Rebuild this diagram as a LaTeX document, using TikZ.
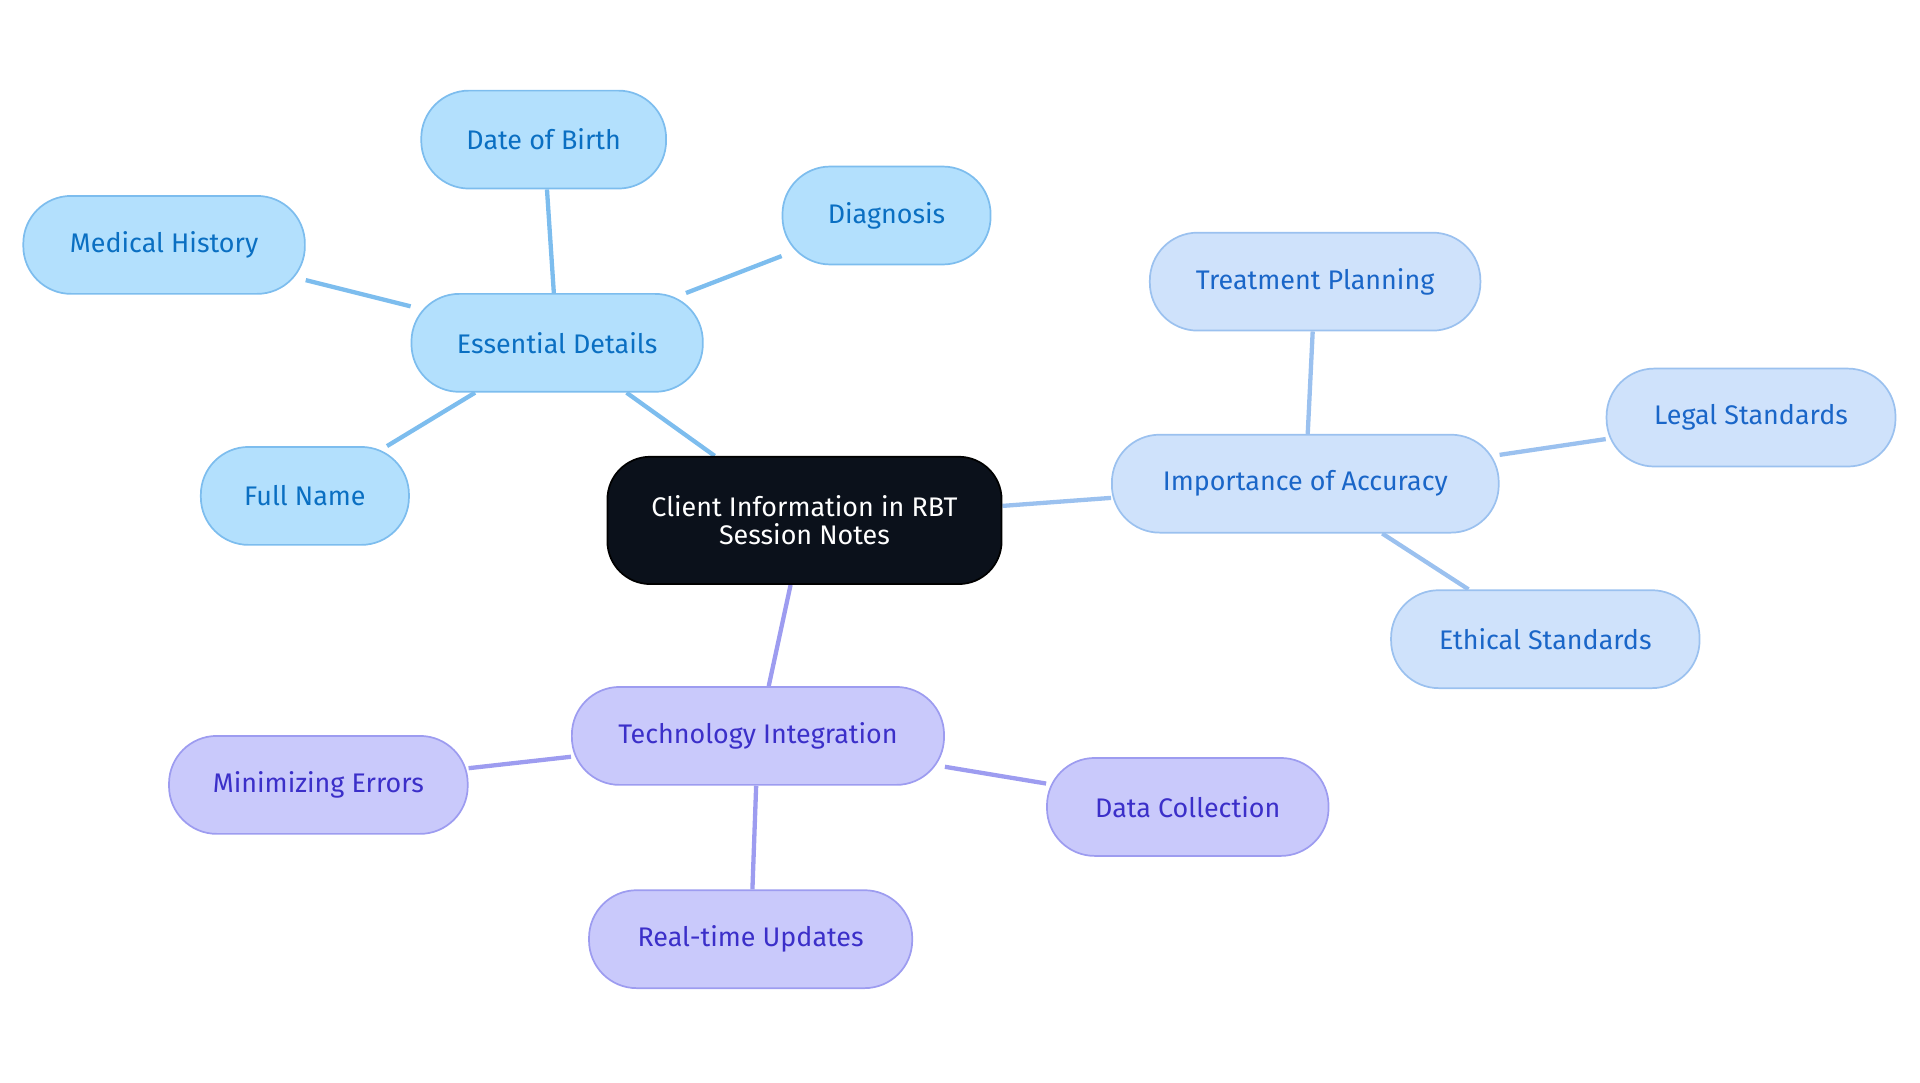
\documentclass[tikz,border=0pt]{standalone}
\usepackage{fontspec}
\setmainfont{Fira Sans}
\usetikzlibrary{backgrounds}
\definecolor{edB}{HTML}{7DBDEE}
\definecolor{fillB}{HTML}{B3E0FD}
\definecolor{txtB}{HTML}{0A6FC2}
\definecolor{edA}{HTML}{9BC1EF}
\definecolor{fillA}{HTML}{CFE2FB}
\definecolor{txtA}{HTML}{1A66C8}
\definecolor{edT}{HTML}{9D9CF0}
\definecolor{fillT}{HTML}{C9C9FB}
\definecolor{txtT}{HTML}{3B2FC9}
\definecolor{dark}{HTML}{0B111B}
\begin{document}
\begin{tikzpicture}[x=0.02cm,y=-0.02cm,
 base/.style={rounded corners=0.78cm, minimum height=1.6cm, inner sep=0pt, font=\fontsize{12.5}{15}\selectfont, line width=0.8pt, align=center},
 nb/.style={base, fill=fillB, draw=edB, text=txtB},
 na/.style={base, fill=fillA, draw=edA, text=txtA},
 nt/.style={base, fill=fillT, draw=edT, text=txtT},
 eb/.style={draw=edB, line width=2pt},
 ea/.style={draw=edA, line width=2pt},
 et/.style={draw=edT, line width=2pt}]
\useasboundingbox (0,0) rectangle (1568,884);
\node[base, fill=dark, draw=black, text=white, minimum width=6.44cm, minimum height=2.08cm, rounded corners=0.7cm] (c) at (657,425) {Client Information in RBT\\[-2pt]Session Notes};
\node[nb, minimum width=4.76cm] (ed) at (455,280) {Essential Details};
\node[nb, minimum width=4cm] (dob) at (444,114) {Date of Birth};
\node[nb, minimum width=3.4cm] (dia) at (724,176) {Diagnosis};
\node[nb, minimum width=4.6cm] (mh) at (134,200) {Medical History};
\node[nb, minimum width=3.4cm] (fn) at (249,405) {Full Name};
\node[na, minimum width=6.32cm] (ia) at (1066,395) {Importance of Accuracy};
\node[na, minimum width=5.4cm] (tp) at (1074,230) {Treatment Planning};
\node[na, minimum width=4.72cm] (ls) at (1430,341) {Legal Standards};
\node[na, minimum width=5.04cm] (es) at (1262,522) {Ethical Standards};
\node[nt, minimum width=6.08cm] (ti) at (619,601) {Technology Integration};
\node[nt, minimum width=4.88cm] (me) at (260,641) {Minimizing Errors};
\node[nt, minimum width=4.6cm] (dc) at (970,659) {Data Collection};
\node[nt, minimum width=5.28cm] (ru) at (613,767) {Real-time Updates};
\begin{scope}[on background layer]
\draw[eb] (c) -- (ed);
\draw[eb] (ed) -- (dob);
\draw[eb] (ed) -- (dia);
\draw[eb] (ed) -- (mh);
\draw[eb] (ed) -- (fn);
\draw[ea] (c) -- (ia);
\draw[ea] (ia) -- (tp);
\draw[ea] (ia) -- (ls);
\draw[ea] (ia) -- (es);
\draw[et] (c) -- (ti);
\draw[et] (ti) -- (me);
\draw[et] (ti) -- (dc);
\draw[et] (ti) -- (ru);
\end{scope}
\end{tikzpicture}
\end{document}
